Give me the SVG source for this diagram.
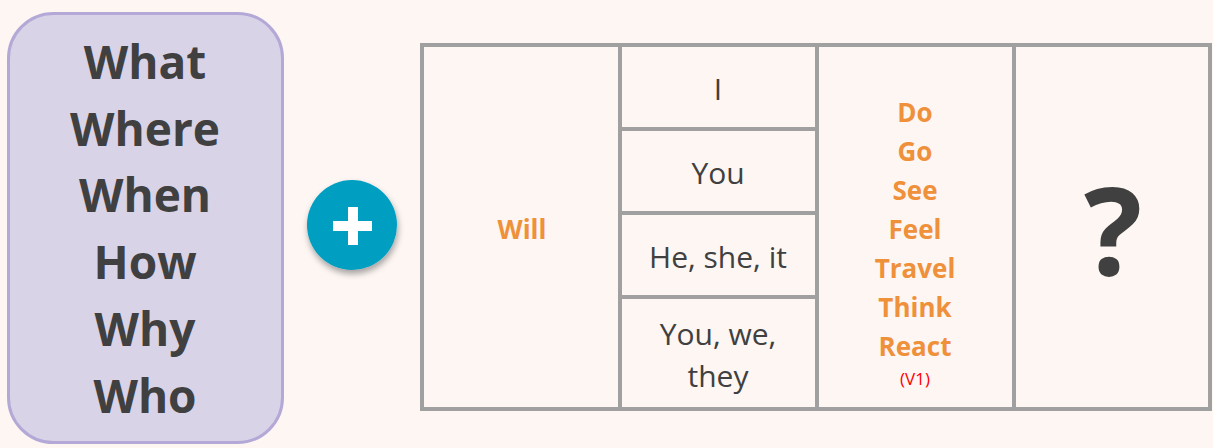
<svg xmlns="http://www.w3.org/2000/svg" width="1213" height="448" viewBox="0 0 1213 448">
<defs>
<style>
.q{font-family:"Open Sans","DejaVu Sans",sans-serif;font-weight:700;font-size:46px;fill:#404040;text-anchor:middle}
.p{font-family:"Open Sans","DejaVu Sans",sans-serif;font-size:30px;fill:#404040;text-anchor:middle}
.v{font-family:"Open Sans","DejaVu Sans",sans-serif;font-weight:700;font-size:26px;fill:#ef903b;text-anchor:middle}
.cell{fill:none;stroke:#a0a0a0;stroke-width:4}
</style>
<filter id="sh" x="-30%" y="-30%" width="160%" height="170%">
<feDropShadow dx="1" dy="4" stdDeviation="3" flood-color="#000" flood-opacity="0.35"/>
</filter>
</defs>
<rect width="1213" height="448" fill="#fdf6f3"/>
<g id="questions">
<rect x="8.5" y="13.5" width="274" height="429" rx="45" fill="#d9d3e8" stroke="#b4a9d6" stroke-width="3"/>
<text class="q" x="145" y="79">What</text>
<text class="q" x="145" y="146">Where</text>
<text class="q" x="145" y="212">When</text>
<text class="q" x="145" y="279">How</text>
<text class="q" x="145" y="346">Why</text>
<text class="q" x="145" y="413">Who</text>
</g>
<g id="plus">
<circle cx="352" cy="225" r="45" fill="#019fc2" filter="url(#sh)"/>
<rect x="333" y="221" width="39" height="10" fill="#fff"/>
<rect x="348" y="207" width="10" height="38" fill="#fff"/>
</g>
<g id="table">
<rect class="cell" x="422" y="45" width="788" height="364"/>
<line class="cell" x1="620" y1="45" x2="620" y2="409"/>
<line class="cell" x1="817" y1="45" x2="817" y2="409"/>
<line class="cell" x1="1014" y1="45" x2="1014" y2="409"/>
<line class="cell" x1="620" y1="129" x2="817" y2="129"/>
<line class="cell" x1="620" y1="213" x2="817" y2="213"/>
<line class="cell" x1="620" y1="297" x2="817" y2="297"/>
</g>
<g id="will"><text class="v" x="522" y="239">Will</text></g>
<g id="subjects">
<text class="p" x="718" y="100">I</text>
<text class="p" x="718" y="184">You</text>
<text class="p" x="718" y="268">He, she, it</text>
<text class="p" x="718" y="345">You, we,</text>
<text class="p" x="718" y="387">they</text>
</g>
<g id="verbs">
<text class="v" x="915" y="122">Do</text>
<text class="v" x="915" y="161">Go</text>
<text class="v" x="915" y="200">See</text>
<text class="v" x="915" y="239">Feel</text>
<text class="v" x="915" y="278">Travel</text>
<text class="v" x="915" y="317">Think</text>
<text class="v" x="915" y="356">React</text>
<text x="915" y="385" font-family="Open Sans, DejaVu Sans, sans-serif" font-size="17" fill="#ff0000" text-anchor="middle">(V1)</text>
</g>
<g id="question"><text x="1113" y="275" font-family="Open Sans, DejaVu Sans, sans-serif" font-weight="700" font-size="122" fill="#404040" text-anchor="middle">?</text></g>
</svg>
